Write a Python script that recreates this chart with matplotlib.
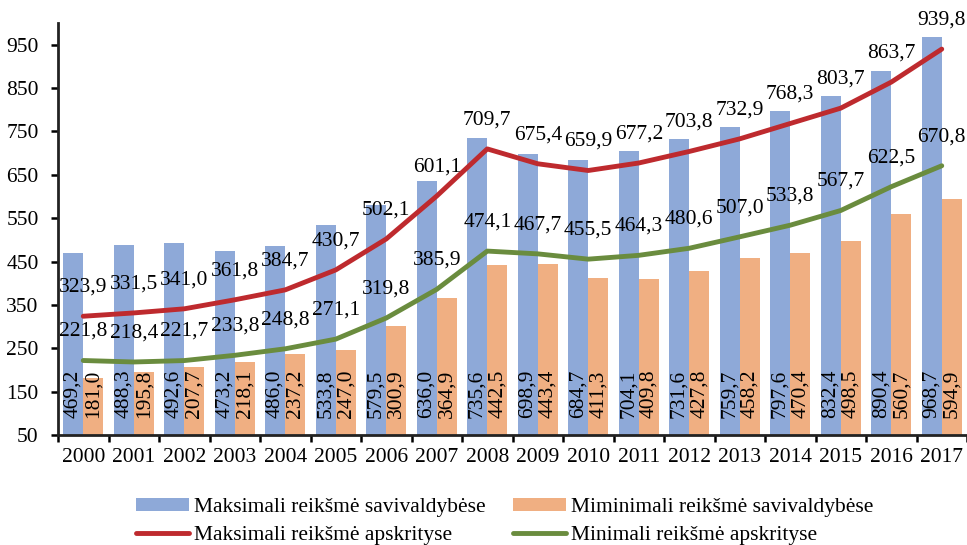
import matplotlib
matplotlib.use("Agg")
import matplotlib.pyplot as plt
import numpy as np
from matplotlib.ticker import FixedLocator

years = [str(y) for y in range(2000, 2018)]
max_savivaldybes = [469.2, 488.3, 492.6, 473.2, 486.0, 533.8, 579.5, 636.0, 735.6,
                    698.9, 684.7, 704.1, 731.6, 759.7, 797.6, 832.4, 890.4, 968.7]
min_savivaldybes = [181.0, 195.8, 207.7, 218.1, 237.2, 247.0, 300.9, 364.9, 442.5,
                    443.4, 411.3, 409.8, 427.8, 458.2, 470.4, 498.5, 560.7, 594.9]
max_apskrityse = [323.9, 331.5, 341.0, 361.8, 384.7, 430.7, 502.1, 601.1, 709.7,
                  675.4, 659.9, 677.2, 703.8, 732.9, 768.3, 803.7, 863.7, 939.8]
min_apskrityse = [221.8, 218.4, 221.7, 233.8, 248.8, 271.1, 319.8, 385.9, 474.1,
                  467.7, 455.5, 464.3, 480.6, 507.0, 533.8, 567.7, 622.5, 670.8]

labels = ["Maksimali reikšmė savivaldybėse", "Miminimali reikšmė savivaldybėse",
          "Maksimali reikšmė apskrityse", "Minimali reikšmė apskrityse"]

BLUE = "#8EA9D8"
ORANGE = "#F0AF82"
RED = "#BE2A2E"
GREEN = "#6A8C3E"

plt.rcParams["font.family"] = ["Liberation Serif", "DejaVu Serif"]
plt.rcParams["font.size"] = 15.5


def fmt(v):
    return f"{v:.1f}".replace(".", ",")


fig = plt.figure(figsize=(9.67, 5.45), dpi=100)
ax = fig.add_axes([0.060, 0.2018, 0.940, 0.756])

x = np.arange(len(years))
w = 0.4
base = 50
b1 = ax.bar(x - w / 2, np.array(max_savivaldybes) - base, w, bottom=base,
            color=BLUE, label=labels[0], zorder=2)
b2 = ax.bar(x + w / 2, np.array(min_savivaldybes) - base, w, bottom=base,
            color=ORANGE, label=labels[1], zorder=2)
l1, = ax.plot(x, max_apskrityse, color=RED, lw=3.5, label=labels[2], zorder=3,
              solid_capstyle="round", solid_joinstyle="round")
l2, = ax.plot(x, min_apskrityse, color=GREEN, lw=3.5, label=labels[3], zorder=3,
              solid_capstyle="round", solid_joinstyle="round")

# rotated value labels inside the bars
for xi, v in zip(x - w / 2, max_savivaldybes):
    ax.annotate(fmt(v), (xi, base), xytext=(0, 12), textcoords="offset points",
                rotation=90, ha="center", va="bottom", zorder=4)
for xi, v in zip(x + w / 2, min_savivaldybes):
    ax.annotate(fmt(v), (xi, base), xytext=(0, 12), textcoords="offset points",
                rotation=90, ha="center", va="bottom", zorder=4)

# line labels above the points
for series in (max_apskrityse, min_apskrityse):
    for xi, v in zip(x, series):
        ax.annotate(fmt(v), (xi, v), xytext=(0, 21), textcoords="offset points",
                    ha="center", va="center", zorder=4)

ax.set_xlim(-0.5, len(years) - 0.5)
ax.set_ylim(50, 1000)
ax.set_yticks(np.arange(50, 1000, 100))

ax.xaxis.set_major_locator(FixedLocator(np.arange(-0.5, len(years), 1.0)))
ax.xaxis.set_major_formatter(plt.NullFormatter())
ax.xaxis.set_minor_locator(FixedLocator(x))
ax.set_xticklabels(years, minor=True)
ax.tick_params(axis="x", which="major", length=5, width=1.8, direction="out")
ax.tick_params(axis="x", which="minor", length=0, pad=9)
ax.tick_params(axis="y", length=5, width=1.8, direction="out", pad=9)

for side in ("top", "right"):
    ax.spines[side].set_visible(False)
for side in ("left", "bottom"):
    ax.spines[side].set_linewidth(2)
    ax.spines[side].set_color("#222222")

fig.legend([b1, l1, b2, l2], [labels[0], labels[2], labels[1], labels[3]],
           ncol=2, loc="upper left", bbox_to_anchor=(0.1406, 0.087),
           frameon=False, borderpad=0, borderaxespad=0, handlelength=2.45,
           handleheight=0.6, handletextpad=0.23, columnspacing=1.3,
           labelspacing=0.42)

fig.savefig("out.png", dpi=100)
